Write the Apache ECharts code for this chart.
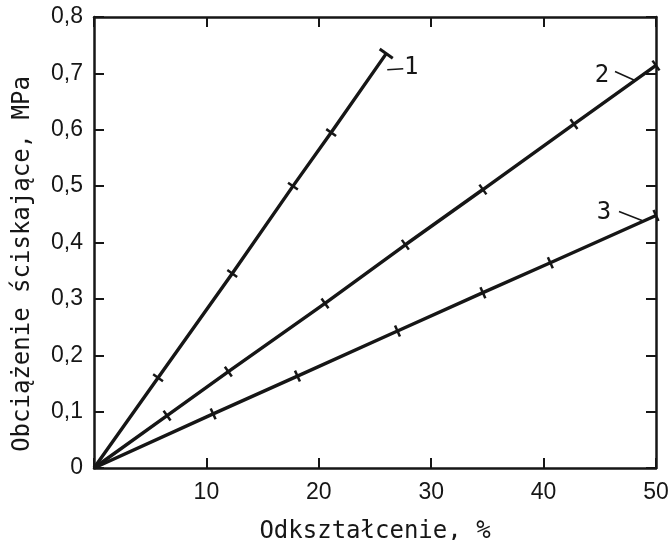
<!DOCTYPE html>
<html>
<head>
<meta charset="utf-8">
<script src="https://cdn.jsdelivr.net/npm/echarts@6/dist/echarts.min.js"></script>
<style>
  html, body { margin: 0; padding: 0; background: #fff; }
  #chart { width: 671px; height: 540px; }
</style>
</head>
<body>
<div id="chart"></div>
<script>
// Compression test: strain (%) versus compressive stress (MPa) for three samples
const strain1 = [0, 5.7, 12.3, 17.7, 21.1, 26.0];
const stress1 = [0, 0.16, 0.345, 0.50, 0.595, 0.735];
const strain2 = [0, 6.5, 11.95, 20.55, 27.7, 34.6, 42.7, 50];
const stress2 = [0, 0.093, 0.171, 0.292, 0.396, 0.494, 0.61, 0.714];
const strain3 = [0, 10.6, 18.1, 27.0, 34.6, 40.6, 50];
const stress3 = [0, 0.096, 0.163, 0.243, 0.311, 0.364, 0.448];
const curveNames = ['1', '2', '3'];

const xTicks = [0, 10, 20, 30, 40, 50];
const yTicks = [0, 0.1, 0.2, 0.3, 0.4, 0.5, 0.6, 0.7, 0.8];

const xTitle = 'Odkształcenie, %';
const yTitle = 'Obciążenie ściskające, MPa';

const INK = '#161616';
const TICK_FONT = '"Liberation Sans", Arial, sans-serif';
const TITLE_FONT = '"DejaVu Sans Mono", monospace';

const pairs = (xs, ys) => xs.map((x, i) => [x, ys[i]]);
const curves = [pairs(strain1, stress1), pairs(strain2, stress2), pairs(strain3, stress3)];

const chart = echarts.init(document.getElementById('chart'), null, { renderer: 'canvas' });

// fresh axis styling for every axis: frame line with inward ticks
function axisStyle(extra) {
  return Object.assign({
    axisLine: { show: true, onZero: false, lineStyle: { color: INK, width: 2.5 } },
    axisTick: { show: true, inside: true, length: 10, lineStyle: { color: INK, width: 2 } },
    splitLine: { show: false }
  }, extra);
}

function makeSeries(data, idx) {
  const last = data.length - 1;
  return {
    type: 'line',
    name: curveNames[idx],
    data: data,
    clip: false,
    silent: true,
    animation: false,
    lineStyle: { color: INK, width: 3.4 },
    itemStyle: { color: INK },
    symbol: (v, p) => (p.dataIndex === 0 ? 'none' : 'rect'),
    symbolSize: (v, p) => (p.dataIndex === last && idx === 0 ? [3, 16] : [2.5, 12]),
    showAllSymbol: true
  };
}

const xMin = xTicks[0], xMax = xTicks[xTicks.length - 1];
const yMin = yTicks[0], yMax = yTicks[yTicks.length - 1];

const option = {
  animation: false,
  backgroundColor: '#fff',
  grid: { left: 94, right: 15, top: 17, bottom: 72, containLabel: false, outerBoundsMode: 'none' },
  xAxis: [
    axisStyle({
      type: 'value', min: xMin, max: xMax, interval: 10, position: 'bottom',
      name: xTitle, nameLocation: 'middle', nameGap: 52,
      nameTextStyle: { fontFamily: TITLE_FONT, fontSize: 24, color: INK },
      axisLabel: {
        margin: 13, fontFamily: TICK_FONT, fontSize: 23, color: INK,
        formatter: v => (v === 0 ? '' : String(v))
      }
    }),
    axisStyle({
      type: 'value', min: xMin, max: xMax, interval: 10, position: 'top',
      axisLabel: { show: false }
    })
  ],
  yAxis: [
    axisStyle({
      type: 'value', min: yMin, max: yMax, interval: 0.1, position: 'left',
      axisLabel: {
        margin: 11, fontFamily: TICK_FONT, fontSize: 23, color: INK,
        formatter: v => (v === 0 ? '0' : v.toFixed(1).replace('.', ','))
      }
    }),
    axisStyle({
      type: 'value', min: yMin, max: yMax, interval: 0.1, position: 'right',
      axisLabel: { show: false }
    })
  ],
  series: curves.map(makeSeries)
};

chart.setOption(option);

// Orient the cross-marks perpendicular to each line and place the curve numbers
const toPx = pt => chart.convertToPixel({ xAxisIndex: 0, yAxisIndex: 0 }, pt);
const origin = toPx([0, 0]);
const rotations = curves.map(c => {
  const end = toPx(c[c.length - 1]);
  return Math.atan2(origin[1] - end[1], end[0] - origin[0]) * 180 / Math.PI;
});

// label offsets (px) relative to each curve's end point: text centre, leader start, leader end
const labelPlacement = [
  { text: [25, 14], from: [1, 16], to: [17, 15] },
  { text: [-54, 10], from: [-41, 6], to: [-21, 15] },
  { text: [-52, -3], from: [-37, -4], to: [-14, 5] }
];

const graphics = [];
curves.forEach((c, i) => {
  const end = toPx(c[c.length - 1]);
  const lp = labelPlacement[i];
  graphics.push({
    type: 'text',
    x: end[0] + lp.text[0], y: end[1] + lp.text[1],
    style: {
      text: curveNames[i], fill: INK, font: '24px ' + TITLE_FONT,
      textAlign: 'center', textVerticalAlign: 'middle'
    },
    silent: true
  });
  graphics.push({
    type: 'line',
    shape: { x1: end[0] + lp.from[0], y1: end[1] + lp.from[1], x2: end[0] + lp.to[0], y2: end[1] + lp.to[1] },
    style: { stroke: INK, lineWidth: 1.5 },
    silent: true
  });
});

graphics.push({
  type: 'text',
  x: 23, y: 264,
  rotation: Math.PI / 2,
  style: {
    text: yTitle, fill: INK, font: '24px ' + TITLE_FONT,
    textAlign: 'center', textVerticalAlign: 'middle'
  },
  silent: true
});

chart.setOption({
  series: curves.map((c, i) => ({ symbolRotate: rotations[i] })),
  graphic: graphics
});
</script>
</body>
</html>
